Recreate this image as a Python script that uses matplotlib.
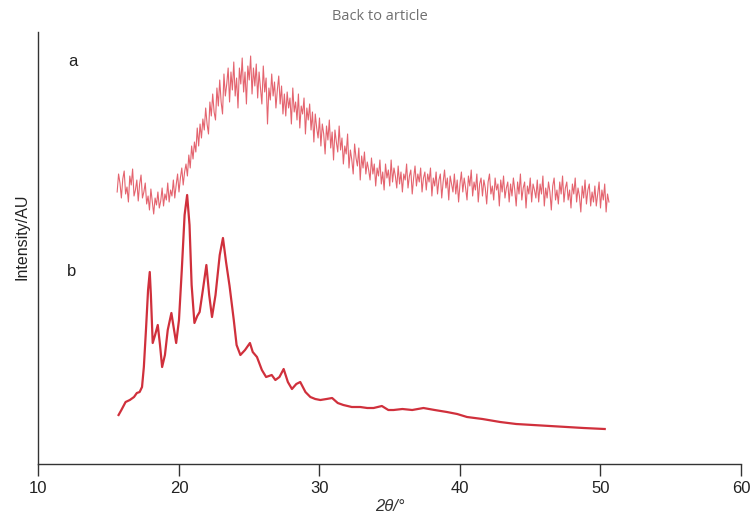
import matplotlib
matplotlib.use("Agg")
import matplotlib.pyplot as plt
import numpy as np

# curve a: amorphous, noisy pattern (2theta grid 15.6..50.6, step 0.1)
a_start, a_end = 15.6, 50.6
a_int = [
    272, 290, 281, 266, 285, 293, 270, 277, 262, 288, 279, 295, 268, 274, 284, 263, 280, 289, 266, 272,
    281, 260, 268, 254, 275, 262, 250, 266, 259, 272, 256, 263, 276, 258, 270, 264, 281, 262, 274, 268,
    284, 266, 279, 290, 272, 286, 296, 279, 292, 300, 288, 309, 296, 318, 305, 322, 312, 336, 318, 340,
    326, 345, 334, 356, 340, 330, 362, 348, 370, 352, 344, 376, 358, 384, 362, 350, 390, 368, 380, 396,
    362, 392, 374, 402, 368, 386, 356, 396, 380, 406, 372, 392, 360, 398, 384, 408, 370, 396, 378, 400,
    366, 392, 376, 360, 398, 372, 386, 340, 376, 364, 390, 368, 382, 356, 374, 388, 360, 378, 350, 370,
    348, 372, 356, 366, 340, 376, 352, 362, 344, 370, 336, 358, 350, 366, 330, 356, 344, 360, 334, 352,
    322, 350, 336, 326, 346, 318, 340, 330, 310, 338, 324, 344, 316, 332, 304, 334, 322, 312, 338, 314,
    326, 300, 318, 310, 330, 296, 314, 304, 290, 320, 306, 298, 316, 284, 308, 296, 312, 290, 302, 294,
    284, 306, 290, 300, 278, 296, 288, 304, 280, 292, 274, 300, 286, 294, 278, 304, 282, 296, 288, 276,
    298, 280, 292, 272, 290, 284, 300, 276, 288, 294, 270, 286, 298, 278, 290, 282, 296, 272, 286, 292,
    274, 290, 282, 296, 268, 286, 278, 292, 270, 284, 290, 266, 282, 294, 276, 286, 264, 288, 280, 272,
    290, 270, 284, 262, 280, 292, 272, 286, 276, 264, 288, 278, 294, 268, 282, 274, 290, 262, 280, 286,
    268, 284, 276, 260, 282, 290, 270, 278, 264, 286, 274, 280, 258, 284, 272, 288, 266, 276, 282, 262,
    280, 268, 286, 274, 258, 282, 270, 290, 264, 276, 282, 256, 278, 270, 286, 262, 280, 274, 266, 284,
    262, 280, 270, 288, 258, 276, 266, 282, 272, 254, 278, 286, 264, 274, 260, 282, 270, 288, 262, 276,
    282, 264, 274, 256, 280, 270, 286, 262, 276, 268, 252, 278, 266, 284, 260, 274, 280, 258, 272, 262,
    278, 258, 270, 282, 256, 274, 264, 280, 252, 270, 262,
]
a_theta = np.linspace(a_start, a_end, len(a_int))

# curve b: crystalline pattern
b_theta = [15.7, 15.9, 16.2, 16.5, 16.8, 17.0, 17.2, 17.37, 17.5, 17.65,
           17.8, 17.92, 18.0, 18.13, 18.3, 18.49, 18.65, 18.8, 19.0, 19.2,
           19.46, 19.65, 19.8, 20.0, 20.2, 20.4, 20.58, 20.75, 20.9, 21.1,
           21.3, 21.47, 21.7, 21.95, 22.15, 22.35, 22.6, 22.9, 23.13, 23.35,
           23.6, 23.9, 24.1, 24.37, 24.7, 25.05, 25.25, 25.55, 25.9, 26.2,
           26.6, 26.86, 27.15, 27.45, 27.75, 28.04, 28.35, 28.63, 29.0, 29.35,
           29.7, 30.06, 30.5, 30.9, 31.3, 31.7, 32.3, 32.9, 33.4, 33.85,
           34.44, 34.9, 35.27, 35.9, 36.6, 37.4, 38.2, 39.07, 39.8, 40.5,
           41.6, 42.86, 44.0, 45.2, 46.4, 47.6, 48.8, 50.3]
b_int = [49, 54, 62, 64, 67, 71, 72, 77, 97, 134,
         174, 192, 169, 121, 129, 139, 119, 97, 109, 134,
         151, 134, 121, 144, 194, 249, 269, 239, 179, 141,
         148, 152, 174, 199, 169, 147, 169, 209, 226, 202,
         178, 144, 119, 109, 114, 121, 112, 107, 94, 87,
         89, 84, 87, 95, 82, 75, 80, 82, 72, 67,
         65, 64, 65, 66, 61, 59, 57, 57, 56, 56,
         58, 54, 54, 55, 54, 56, 54, 52, 50, 47,
         45, 42, 40, 39, 38, 37, 36, 35]

x_ticks = [10, 20, 30, 40, 50, 60]

narrow = ['Liberation Sans Narrow', 'Liberation Sans', 'DejaVu Sans']

fig = plt.figure(figsize=(7.5, 5.22), dpi=100)
ax = fig.add_axes([0.0513, 0.1111, 0.9367, 0.8276])

ax.plot(a_theta, a_int, color='#e4646f', lw=0.8)
ax.plot(b_theta, b_int, color='#d0303c', lw=1.6)

ax.set_xlim(10, 60)
ax.set_ylim(0, 432)
ax.set_xticks(x_ticks)
ax.set_yticks([])
for s in ['top', 'right']:
    ax.spines[s].set_visible(False)
for s in ['left', 'bottom']:
    ax.spines[s].set_color('#333333')
    ax.spines[s].set_linewidth(1)
ax.tick_params(axis='x', direction='out', length=8.6, width=1, color='#333333', pad=3.5)
for lab in ax.get_xticklabels():
    lab.set_family(narrow)
    lab.set_fontsize(12)
    lab.set_color('#222222')

ax.set_xlabel('2θ/°', family=narrow, style='italic', fontsize=12, color='#333333', labelpad=2)

fig.text(22 / 750, 1 - 237 / 522, 'Intensity/AU', rotation=90, ha='center', va='center',
         family='Liberation Sans', fontsize=11.5, color='#222222')
fig.text(73 / 750, 1 - 62 / 522, 'a', ha='center', va='center', family='Liberation Sans',
         fontsize=12, color='#222222')
fig.text(72 / 750, 1 - 272 / 522, 'b', ha='center', va='center', family='Liberation Sans',
         fontsize=12, color='#222222')
fig.text(380 / 750, 1 - 17 / 522, 'Back to article', ha='center', va='center',
         family='Open Sans', fontsize=10.5, color='#707070')

fig.savefig('out.png', dpi=100)
